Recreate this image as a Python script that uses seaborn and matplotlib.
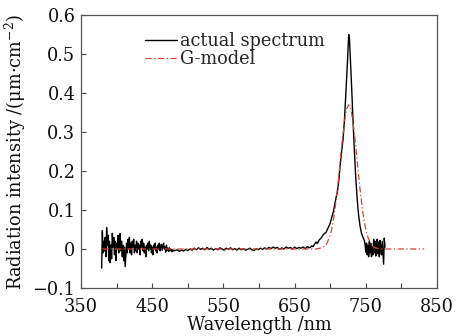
import matplotlib
matplotlib.use("Agg")
import matplotlib.pyplot as plt
import pandas as pd
import seaborn as sns
from matplotlib.ticker import FixedLocator, FixedFormatter

# ---------------- data ----------------
# actual spectrum: noisy short-wave part (1 nm)
wl_noise = list(range(379, 481))
int_noise = [
    -0.049, 0.047, -0.010, 0.020, -0.005, 0.030, -0.020, 0.055, 0.010, 0.035,
    -0.030, 0.020, -0.035, 0.010, -0.025, 0.040, 0.005, 0.030, -0.015, 0.020,
    -0.030, 0.015, 0.000, 0.035, -0.010, 0.025, 0.040, -0.005, 0.020, -0.020,
    0.010, -0.030, 0.005, -0.045, -0.015, 0.015, -0.010, 0.025, 0.000, 0.030,
    -0.010, 0.015, -0.015, 0.020, 0.005, 0.025, -0.010, 0.010, -0.005, 0.020,
    -0.010, 0.015, 0.000, 0.010, -0.015, 0.020, 0.005, 0.025, -0.005, 0.015,
    -0.010, 0.005, -0.020, 0.010, 0.000, 0.015, -0.005, 0.020, 0.000, 0.010,
    -0.010, 0.005, -0.015, 0.010, 0.000, 0.015, -0.005, 0.005, -0.010, 0.010,
    0.000, 0.015, -0.005, 0.005, 0.012, -0.003, 0.008, 0.015, 0.000, 0.005,
    -0.008, 0.010, -0.003, 0.002, -0.006, 0.003, -0.005, 0.000, -0.004, -0.007,
    -0.002, -0.005,
]
# actual spectrum: flat baseline (3 nm)
wl_base = list(range(482, 672, 3))
int_base = [
    -0.004, -0.002, -0.006, -0.003, -0.005, -0.001, -0.004, 0.000, -0.003, 0.002,
    -0.002, 0.003, -0.001, 0.002, -0.002, 0.004, -0.001, 0.002, -0.003, 0.001,
    -0.002, 0.003, 0.000, -0.003, 0.002, -0.001, 0.003, -0.002, 0.001, -0.003,
    0.002, -0.002, 0.001, -0.003, -0.001, 0.002, -0.002, -0.004, 0.001, -0.002,
    0.002, -0.001, 0.003, 0.000, 0.004, 0.001, 0.005, 0.002, 0.004, -0.001,
    0.003, 0.000, 0.005, 0.002, 0.004, 0.000, 0.005, 0.001, 0.004, 0.002,
    0.005, 0.001, 0.006, 0.003,
]
# actual spectrum: emission peak and long-wave tail
wl_peak = [672, 674, 676, 678, 680, 682, 684, 686, 688, 690, 692, 694, 696, 698,
           700, 702, 704, 706, 708, 710, 712, 714, 716, 718, 720, 722, 724, 726,
           727, 728, 730, 732, 734, 736, 738, 740, 742, 744, 746, 748,
           749, 750, 751, 752, 753, 754, 755, 756, 757, 758, 759, 760, 761, 762,
           763, 764, 765, 766, 767, 768, 769, 770, 771, 772, 773, 774, 775, 776, 777]
int_peak = [0.004, 0.008, 0.006, 0.012, 0.018, 0.014, 0.022, 0.026, 0.030, 0.036,
            0.040, 0.042, 0.050, 0.058, 0.066, 0.080, 0.092, 0.110, 0.130, 0.145,
            0.175, 0.215, 0.250, 0.280, 0.330, 0.400, 0.470, 0.550,
            0.540, 0.500, 0.420, 0.330, 0.250, 0.180, 0.125, 0.085, 0.058, 0.040,
            0.030, 0.022,
            0.010, -0.008, 0.015, -0.015, 0.010, -0.020, 0.020, -0.010, 0.015, -0.020,
            0.005, -0.015, 0.025, -0.010, 0.020, -0.018, 0.010, 0.025, -0.012, 0.018,
            -0.020, 0.022, 0.000, -0.015, 0.020, -0.010, -0.039, 0.028, 0.005]

# G-model curve
wl_model = [380, 680, 690, 695, 700, 702, 705, 707, 710, 712, 715, 717, 720, 723,
            726, 729, 732, 735, 737, 740, 742, 745, 747, 750, 752, 757, 762, 770, 832]
int_model = [0.0, 0.0, 0.004, 0.013, 0.035, 0.050, 0.080, 0.106, 0.152, 0.187,
             0.243, 0.279, 0.326, 0.359, 0.370, 0.359, 0.326, 0.279, 0.243, 0.187,
             0.152, 0.106, 0.080, 0.050, 0.035, 0.013, 0.004, 0.0, 0.0]

series_names = ["actual spectrum", "G-model"]
x_major = [350, 450, 550, 650, 750, 850]
x_minor = [400, 500, 600, 700, 800]
x_labels = ["350", "450", "550", "650", "750", "850"]
y_major = [-0.1, 0.0, 0.1, 0.2, 0.3, 0.4, 0.5, 0.6]
y_labels = ["\u22120.1", "0", "0.1", "0.2", "0.3", "0.4", "0.5", "0.6"]
x_title = "Wavelength /nm"
y_title = "Radiation intensity /(\u03bcm\u00b7cm$^{-2}$)"

# ---------------- plotting ----------------
sns.set_theme(style="white")
plt.rcParams["font.family"] = ["DejaVu Serif"]
plt.rcParams["mathtext.fontset"] = "dejavuserif"
FS = 12.8

df_actual = pd.DataFrame({"wl": wl_noise + wl_base + wl_peak,
                          "I": int_noise + int_base + int_peak})
df_model = pd.DataFrame({"wl": wl_model, "I": int_model})

fig = plt.figure(figsize=(4.67, 3.36), dpi=100)
ax = fig.add_axes([81 / 467, (336 - 288) / 336, (437 - 81) / 467, (288 - 15) / 336])

sns.lineplot(data=df_actual, x="wl", y="I", ax=ax, color="black", lw=1.0,
             estimator=None, label=series_names[0])
sns.lineplot(data=df_model, x="wl", y="I", ax=ax, color="#d0473f", lw=0.9,
             linestyle=(0, (5, 2, 1, 2)), estimator=None, label=series_names[1])

ax.set_xlim(350, 850)
ax.set_ylim(-0.1, 0.6)
ax.xaxis.set_major_locator(FixedLocator(x_major))
ax.xaxis.set_major_formatter(FixedFormatter(x_labels))
ax.xaxis.set_minor_locator(FixedLocator(x_minor))
ax.yaxis.set_major_locator(FixedLocator(y_major))
ax.yaxis.set_major_formatter(FixedFormatter(y_labels))
ax.tick_params(axis="both", which="both", direction="in", length=3.5, width=0.8,
               color="#444444", labelsize=FS, labelcolor="#111111", pad=4)
ax.tick_params(axis="x", which="both", pad=7)
ax.tick_params(bottom=True, left=True, top=False, right=False, which="both")

for s in ax.spines.values():
    s.set_visible(True)
    s.set_color("#555555")
    s.set_linewidth(0.9)

ax.set_xlabel(x_title, fontsize=FS, color="#111111", labelpad=0)
ax.set_ylabel(y_title, fontsize=FS, color="#111111", labelpad=3)

ax.legend(loc="upper left", bbox_to_anchor=((145 - 81) / 356, (288 - 32) / 273),
          frameon=False, fontsize=FS, handlelength=1.8, handletextpad=0.15,
          borderpad=0, borderaxespad=0, labelspacing=0.0)

fig.savefig("out.png", dpi=100)
